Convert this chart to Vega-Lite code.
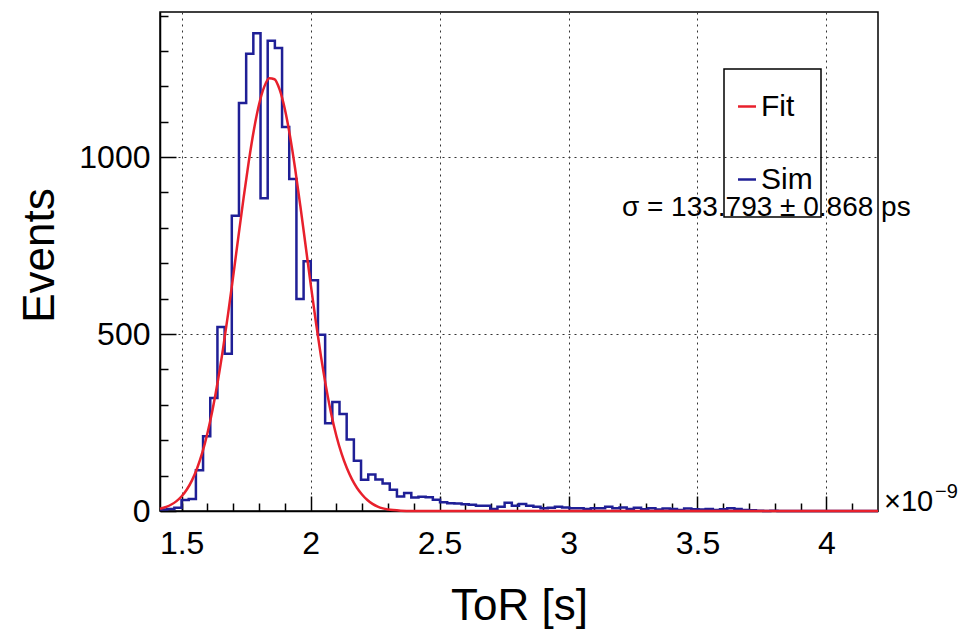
{
  "$schema": "https://vega.github.io/schema/vega-lite/v6.json",
  "width": 718,
  "height": 499,
  "autosize": {"type": "none"},
  "padding": {"left": 160, "top": 12, "right": 89, "bottom": 120},
  "background": "white",
  "config": {
    "font": "Liberation Sans",
    "view": {"stroke": "black", "strokeWidth": 1.5},
    "axis": {
      "domainColor": "black",
      "domainWidth": 1.5,
      "tickColor": "black",
      "tickWidth": 1.5,
      "labelFont": "Liberation Sans",
      "labelFontSize": 32,
      "labelColor": "black",
      "titleFont": "Liberation Sans",
      "titleFontSize": 44,
      "titleFontWeight": "normal",
      "titleColor": "black",
      "gridColor": "#333333",
      "gridDash": [2, 4],
      "gridWidth": 1,
      "labelOverlap": false,
      "labelFlush": false
    },
    "legend": {
      "orient": "none",
      "legendX": 564,
      "legendY": 57,
      "direction": "vertical",
      "symbolType": "stroke",
      "symbolStrokeWidth": 2.5,
      "symbolSize": 324,
      "labelFont": "Liberation Sans",
      "labelFontSize": 30,
      "labelColor": "black",
      "labelOffset": -1,
      "padding": 8,
      "clipHeight": 59,
      "rowPadding": 14,
      "strokeColor": "black",
      "strokeWidth": 1.5
    }
  },
  "datasets": {
    "hist": [
      {"x": 1.4160, "count": 4}, {"x": 1.4438, "count": 6}, {"x": 1.4717, "count": 9}, {"x": 1.4995, "count": 31},
      {"x": 1.5274, "count": 34}, {"x": 1.5552, "count": 115}, {"x": 1.5830, "count": 211}, {"x": 1.6109, "count": 319},
      {"x": 1.6387, "count": 520}, {"x": 1.6666, "count": 444}, {"x": 1.6944, "count": 834}, {"x": 1.7222, "count": 1153},
      {"x": 1.7501, "count": 1292}, {"x": 1.7779, "count": 1350}, {"x": 1.8058, "count": 884}, {"x": 1.8336, "count": 1329},
      {"x": 1.8614, "count": 1308}, {"x": 1.8893, "count": 1085}, {"x": 1.9171, "count": 938}, {"x": 1.9450, "count": 599},
      {"x": 1.9728, "count": 706}, {"x": 2.0006, "count": 652}, {"x": 2.0285, "count": 498}, {"x": 2.0563, "count": 248},
      {"x": 2.0842, "count": 308}, {"x": 2.1120, "count": 274}, {"x": 2.1398, "count": 202}, {"x": 2.1677, "count": 142},
      {"x": 2.1955, "count": 88}, {"x": 2.2234, "count": 103}, {"x": 2.2512, "count": 89}, {"x": 2.2790, "count": 78},
      {"x": 2.3069, "count": 60}, {"x": 2.3347, "count": 41}, {"x": 2.3626, "count": 51}, {"x": 2.3904, "count": 38},
      {"x": 2.4182, "count": 40}, {"x": 2.4461, "count": 39}, {"x": 2.4739, "count": 32}, {"x": 2.5018, "count": 25},
      {"x": 2.5296, "count": 22}, {"x": 2.5574, "count": 21}, {"x": 2.5853, "count": 19}, {"x": 2.6131, "count": 18},
      {"x": 2.6410, "count": 15}, {"x": 2.6688, "count": 15}, {"x": 2.6966, "count": 6}, {"x": 2.7245, "count": 12},
      {"x": 2.7523, "count": 23}, {"x": 2.7802, "count": 15}, {"x": 2.8080, "count": 20}, {"x": 2.8358, "count": 15},
      {"x": 2.8637, "count": 12}, {"x": 2.8915, "count": 8}, {"x": 2.9194, "count": 9}, {"x": 2.9472, "count": 12},
      {"x": 2.9750, "count": 10}, {"x": 3.0029, "count": 8}, {"x": 3.0307, "count": 8}, {"x": 3.0586, "count": 6},
      {"x": 3.0864, "count": 8}, {"x": 3.1142, "count": 8}, {"x": 3.1421, "count": 12}, {"x": 3.1699, "count": 8},
      {"x": 3.1978, "count": 10}, {"x": 3.2256, "count": 6}, {"x": 3.2534, "count": 9}, {"x": 3.2813, "count": 5},
      {"x": 3.3091, "count": 8}, {"x": 3.3370, "count": 4}, {"x": 3.3648, "count": 7}, {"x": 3.3926, "count": 6},
      {"x": 3.4205, "count": 3}, {"x": 3.4483, "count": 7}, {"x": 3.4762, "count": 5}, {"x": 3.5040, "count": 4},
      {"x": 3.5318, "count": 6}, {"x": 3.5597, "count": 3}, {"x": 3.5875, "count": 5}, {"x": 3.6154, "count": 8},
      {"x": 3.6432, "count": 6}, {"x": 3.6710, "count": 3}, {"x": 3.6989, "count": 2}, {"x": 3.7267, "count": 1},
      {"x": 3.7546, "count": 0}, {"x": 3.7824, "count": 1}, {"x": 3.8102, "count": 0}, {"x": 3.8381, "count": 0},
      {"x": 3.8659, "count": 0}, {"x": 3.8938, "count": 0}, {"x": 3.9216, "count": 0}, {"x": 3.9494, "count": 0},
      {"x": 3.9773, "count": 0}, {"x": 4.0051, "count": 0}, {"x": 4.0330, "count": 0}, {"x": 4.0608, "count": 0},
      {"x": 4.0886, "count": 0}, {"x": 4.1165, "count": 0}, {"x": 4.1443, "count": 0}, {"x": 4.1722, "count": 0},
      {"x": 4.2000, "count": 0}
    ],
    "fit": [
      {"x": 1.416, "fit": 6.5}, {"x": 1.44, "fit": 11.7}, {"x": 1.46, "fit": 18.3}, {"x": 1.48, "fit": 27.9},
      {"x": 1.50, "fit": 41.6}, {"x": 1.52, "fit": 60.7}, {"x": 1.54, "fit": 86.5}, {"x": 1.56, "fit": 120.9},
      {"x": 1.58, "fit": 164.8}, {"x": 1.60, "fit": 219.8}, {"x": 1.62, "fit": 286.8}, {"x": 1.64, "fit": 365.7},
      {"x": 1.66, "fit": 456.6}, {"x": 1.68, "fit": 556.9}, {"x": 1.70, "fit": 664.4}, {"x": 1.72, "fit": 775.2},
      {"x": 1.74, "fit": 884.3}, {"x": 1.76, "fit": 986.7}, {"x": 1.78, "fit": 1076.7}, {"x": 1.80, "fit": 1148.7},
      {"x": 1.82, "fit": 1198.4}, {"x": 1.84, "fit": 1222.8}, {"x": 1.86, "fit": 1220.1}, {"x": 1.88, "fit": 1190.5},
      {"x": 1.90, "fit": 1136.0}, {"x": 1.92, "fit": 1059.9}, {"x": 1.94, "fit": 967.1}, {"x": 1.96, "fit": 862.9},
      {"x": 1.98, "fit": 753.0}, {"x": 2.00, "fit": 642.5}, {"x": 2.02, "fit": 536.2}, {"x": 2.04, "fit": 437.6},
      {"x": 2.06, "fit": 350}, {"x": 2.08, "fit": 274}, {"x": 2.10, "fit": 212}, {"x": 2.12, "fit": 162},
      {"x": 2.14, "fit": 122}, {"x": 2.16, "fit": 90}, {"x": 2.18, "fit": 65}, {"x": 2.20, "fit": 46},
      {"x": 2.22, "fit": 31}, {"x": 2.24, "fit": 20}, {"x": 2.26, "fit": 12.5}, {"x": 2.28, "fit": 7.5},
      {"x": 2.30, "fit": 4.4}, {"x": 2.32, "fit": 2.5}, {"x": 2.35, "fit": 1}, {"x": 2.40, "fit": 0.3},
      {"x": 2.50, "fit": 0}, {"x": 3.00, "fit": 0}, {"x": 3.50, "fit": 0}, {"x": 4.20, "fit": 0}
    ]
  },
  "layer": [
    {
      "data": {"name": "hist"},
      "mark": {"type": "line", "interpolate": "step-after", "strokeWidth": 2.5},
      "encoding": {
        "x": {
          "field": "x", "type": "quantitative",
          "scale": {"domain": [1.416, 4.2], "nice": false, "zero": false},
          "axis": {
            "orient": "bottom", "values": [1.5, 2, 2.5, 3, 3.5, 4], "format": "~g",
            "ticks": false, "labelPadding": 17, "grid": true,
            "title": "ToR [s]", "titleX": 359, "titleY": 95, "titleBaseline": "middle", "titleAlign": "center"
          }
        },
        "y": {
          "field": "count", "type": "quantitative",
          "scale": {"domain": [0, 1410], "nice": false},
          "axis": {
            "orient": "left", "values": [0, 500, 1000], "format": "d",
            "ticks": false, "labelPadding": 10, "grid": true,
            "title": "Events", "titleX": -120, "titleY": 243, "titleBaseline": "middle", "titleAlign": "center", "titleAngle": -90
          }
        },
        "color": {
          "datum": "Sim",
          "scale": {"domain": ["Fit", "Sim"], "range": ["#e8202c", "#1f1f96"]},
          "legend": {"title": null, "fillColor": null}
        }
      }
    },
    {
      "data": {"name": "fit"},
      "mark": {"type": "line", "interpolate": "monotone", "strokeWidth": 2.5},
      "encoding": {
        "x": {
          "field": "x", "type": "quantitative",
          "axis": {
            "orient": "bottom", "offset": -15, "values": [1.5, 2, 2.5, 3, 3.5, 4],
            "ticks": true, "tickSize": 15, "labels": false, "grid": false, "domain": false, "title": null
          }
        },
        "y": {
          "field": "fit", "type": "quantitative",
          "axis": {
            "orient": "left", "offset": -16, "values": [0, 500, 1000],
            "ticks": true, "tickSize": 16, "labels": false, "grid": false, "domain": false, "title": null
          }
        },
        "color": {"datum": "Fit"}
      }
    },
    {
      "data": {"values": [{}]},
      "mark": {"type": "text", "align": "left", "baseline": "alphabetic", "fontSize": 28, "font": "Liberation Sans", "color": "black"},
      "encoding": {
        "x": {
          "datum": 3.207,
          "axis": {
            "orient": "bottom", "offset": -8,
            "values": [1.5, 1.6, 1.7, 1.8, 1.9, 2.1, 2.2, 2.3, 2.4, 2.6, 2.7, 2.8, 2.9, 3.1, 3.2, 3.3, 3.4, 3.6, 3.7, 3.8, 3.9, 4.1],
            "ticks": true, "tickSize": 8, "labels": false, "grid": false, "domain": false, "title": null
          }
        },
        "y": {
          "datum": 834,
          "axis": {
            "orient": "left", "offset": -8,
            "values": [100, 200, 300, 400, 600, 700, 800, 900, 1100, 1200, 1300, 1400],
            "ticks": true, "tickSize": 8, "labels": false, "grid": false, "domain": false, "title": null
          }
        },
        "text": {"value": "σ = 133.793 ± 0.868 ps"}
      }
    },
    {
      "data": {"values": [{}]},
      "mark": {"type": "text", "align": "left", "baseline": "alphabetic", "fontSize": 29, "font": "Liberation Sans", "color": "black", "dx": 6, "dy": 0},
      "encoding": {
        "x": {"datum": 4.2, "axis": null},
        "y": {"datum": 0, "axis": null},
        "text": {"value": "×10"}
      }
    },
    {
      "data": {"values": [{}]},
      "mark": {"type": "text", "align": "left", "baseline": "alphabetic", "fontSize": 20, "font": "Liberation Sans", "color": "black", "dx": 57, "dy": -13},
      "encoding": {
        "x": {"datum": 4.2, "axis": null},
        "y": {"datum": 0, "axis": null},
        "text": {"value": "−9"}
      }
    }
  ],
  "resolve": {"axis": {"x": "independent", "y": "independent"}}
}
